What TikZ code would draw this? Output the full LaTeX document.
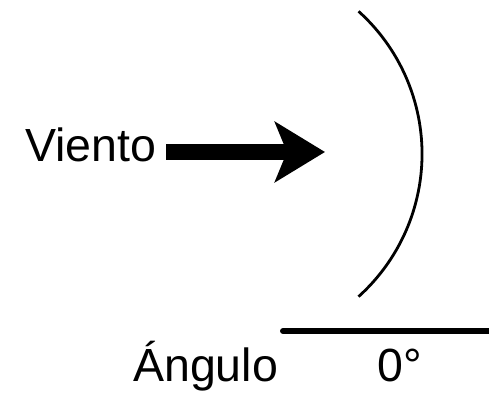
\documentclass[tikz,border=0pt]{standalone}
\usepackage{fontspec}
\setmainfont{Liberation Sans}
\usetikzlibrary{arrows.meta,positioning}

\begin{document}
\begin{tikzpicture}[
    x=1pt, y=1pt,
    txt/.style={inner sep=0pt, font=\fontsize{46.5}{56}\selectfont},
    wind/.style={line width=16pt, -{Stealth[length=50pt, width=60pt, inset=12pt]}},
    sailline/.style={line width=2.8pt},
    baseline/.style={line width=6pt, line cap=round}
]
    \useasboundingbox (0,0) rectangle (489,403);

    % Wind
    \node[txt, anchor=base west, outer sep=10pt] (viento) at (15,241) {Viento};
    \coordinate (tip) at (325,251);
    \draw[wind] (viento.east |- tip) -- (tip);

    % Sail
    \coordinate (sailtop) at (358.5,391.7);
    \draw[sailline] (sailtop) arc[start angle=48, end angle=-48, radius=192];

    % Angle scale
    \coordinate (lineleft) at (283,72);
    \coordinate (lineright) at (495,72);
    \draw[baseline] (lineleft) -- (lineright);
    \node[txt, anchor=base west] (angulo) at (133,21) {Ángulo};
    \node[txt, anchor=base west] (cero) at (377,21) {0°};
\end{tikzpicture}
\end{document}
